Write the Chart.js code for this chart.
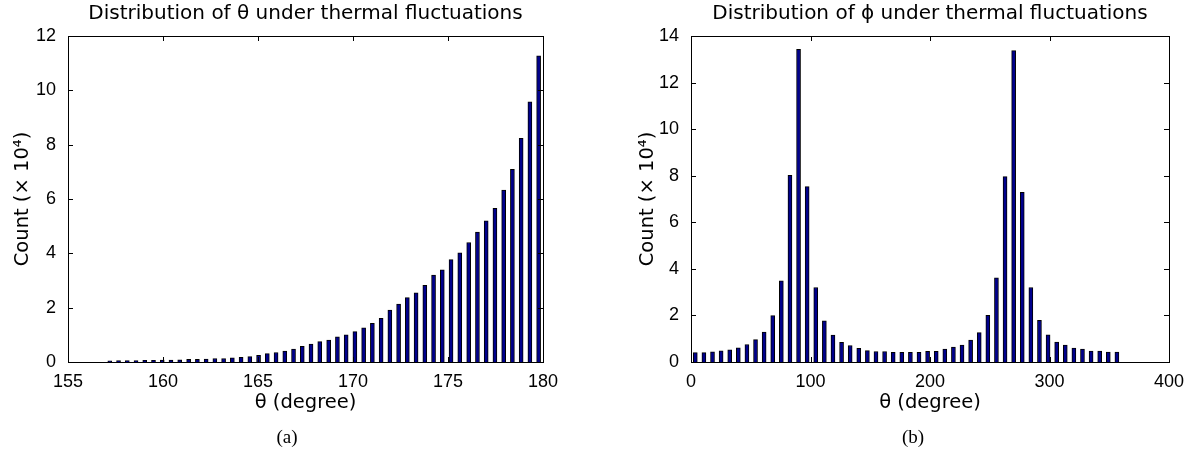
<!DOCTYPE html>
<html lang="en">
<head>
    <meta charset="UTF-8">
    <title>Distribution of theta and phi</title>
    <script src="https://cdn.jsdelivr.net/npm/chart.js"></script>
    <style>
        body { margin: 0; background: #fff; width: 1197px; height: 461px; position: relative; overflow: hidden; }
        canvas { position: absolute; top: 0; }
        .cap { position: absolute; top: 426px; width: 60px; text-align: center; font-family: "Liberation Serif", serif; font-size: 19px; color: #000; }
    </style>
</head>
<body>
    <canvas id="thetaChart" width="600" height="461" style="left:0"></canvas>
    <canvas id="phiChart" width="597" height="461" style="left:600px"></canvas>
    <div class="cap" style="left:257px">(a)</div>
    <div class="cap" style="left:883px">(b)</div>
    <script>
        // bin centres (degree) and counts (x 10^4)
        const thetaBins = [157.20, 157.66, 158.12, 158.58, 159.04, 159.50, 159.96, 160.42, 160.88, 161.35,
            161.81, 162.27, 162.73, 163.19, 163.65, 164.11, 164.57, 165.03, 165.49, 165.95,
            166.41, 166.87, 167.33, 167.79, 168.25, 168.72, 169.18, 169.64, 170.10, 170.56,
            171.02, 171.48, 171.94, 172.40, 172.86, 173.32, 173.78, 174.24, 174.70, 175.16,
            175.62, 176.09, 176.55, 177.01, 177.47, 177.93, 178.39, 178.85, 179.31, 179.77];
        const thetaCounts = [0.04, 0.05, 0.05, 0.05, 0.06, 0.06, 0.07, 0.07, 0.08, 0.10,
            0.10, 0.11, 0.13, 0.13, 0.15, 0.17, 0.20, 0.25, 0.31, 0.35,
            0.40, 0.48, 0.58, 0.66, 0.75, 0.81, 0.93, 1.00, 1.12, 1.26,
            1.42, 1.61, 1.91, 2.13, 2.37, 2.55, 2.82, 3.20, 3.39, 3.77,
            4.02, 4.40, 4.78, 5.20, 5.66, 6.33, 7.09, 8.23, 9.58, 11.27];

        const phiBins = [3.6, 10.8, 18, 25.2, 32.4, 39.6, 46.8, 54, 61.2, 68.4,
            75.6, 82.8, 90, 97.2, 104.4, 111.6, 118.8, 126, 133.2, 140.4,
            147.6, 154.8, 162, 169.2, 176.4, 183.6, 190.8, 198, 205.2, 212.4,
            219.6, 226.8, 234, 241.2, 248.4, 255.6, 262.8, 270, 277.2, 284.4,
            291.6, 298.8, 306, 313.2, 320.4, 327.6, 334.8, 342, 349.2, 356.4];
        const phiCounts = [0.40, 0.40, 0.44, 0.48, 0.52, 0.61, 0.75, 0.96, 1.28, 1.99,
            3.49, 8.02, 13.43, 7.53, 3.20, 1.77, 1.16, 0.84, 0.71, 0.59,
            0.49, 0.45, 0.45, 0.41, 0.41, 0.41, 0.41, 0.46, 0.46, 0.56,
            0.64, 0.73, 0.94, 1.26, 2.00, 3.61, 7.96, 13.37, 7.29, 3.20,
            1.79, 1.17, 0.86, 0.73, 0.60, 0.56, 0.47, 0.47, 0.43, 0.43];

        const thetaXTicks = [155, 160, 165, 170, 175, 180];
        const thetaYTicks = [0, 2, 4, 6, 8, 10, 12];
        const phiXTicks = [0, 100, 200, 300, 400];
        const phiYTicks = [0, 2, 4, 6, 8, 10, 12, 14];

        // box round the plot with inward ticks (matlab style), title centred on the axes
        const frame = {
            id: 'frame',
            afterDatasetsDraw(chart, args, opts) {
                const {ctx, chartArea: a, scales: {x, y}} = chart;
                ctx.save();
                ctx.strokeStyle = '#000';
                ctx.lineWidth = 1;
                ctx.strokeRect(a.left + 0.5, a.top + 0.5, a.right - a.left, a.bottom - a.top);
                ctx.beginPath();
                x.ticks.forEach(t => {
                    const px = Math.round(x.getPixelForValue(t.value)) + 0.5;
                    ctx.moveTo(px, a.bottom); ctx.lineTo(px, a.bottom - 5);
                    ctx.moveTo(px, a.top); ctx.lineTo(px, a.top + 5);
                });
                y.ticks.forEach(t => {
                    const py = Math.round(y.getPixelForValue(t.value)) + 0.5;
                    ctx.moveTo(a.left, py); ctx.lineTo(a.left + 5, py);
                    ctx.moveTo(a.right, py); ctx.lineTo(a.right - 5, py);
                });
                ctx.stroke();

                ctx.fillStyle = '#000';
                ctx.font = '20px "DejaVu Sans"';
                ctx.textAlign = 'center';
                ctx.textBaseline = 'middle';
                ctx.fillText(opts.text, (a.left + a.right) / 2, 14);
                ctx.restore();
            }
        };

        function makeChart(id, title, bins, counts, xTicks, yTicks, pad, yWidth) {
            const ctx = document.getElementById(id).getContext('2d');
            return new Chart(ctx, {
                type: 'bar',
                data: {
                    datasets: [{
                        data: bins.map((b, i) => ({x: b, y: counts[i]})),
                        backgroundColor: '#00008c',
                        borderColor: '#000',
                        borderWidth: 1,
                        barThickness: 4
                    }]
                },
                options: {
                    responsive: false,
                    animation: false,
                    devicePixelRatio: 1,
                    layout: { padding: pad },
                    plugins: {
                        legend: { display: false },
                        tooltip: { enabled: false },
                        frame: { text: title }
                    },
                    scales: {
                        x: {
                            type: 'linear',
                            offset: false,
                            min: xTicks[0],
                            max: xTicks[xTicks.length - 1],
                            grid: { display: false },
                            border: { display: false },
                            ticks: {
                                stepSize: xTicks[1] - xTicks[0],
                                color: '#000',
                                padding: 1,
                                maxRotation: 0,
                                font: { family: 'Liberation Sans', size: 18 }
                            },
                            title: {
                                display: true,
                                text: 'θ (degree)',
                                color: '#000',
                                padding: 0,
                                font: { family: 'DejaVu Sans', size: 19.5 }
                            },
                            afterFit(scale) { scale.height = 53; }
                        },
                        y: {
                            min: yTicks[0],
                            max: yTicks[yTicks.length - 1],
                            grid: { display: false },
                            border: { display: false },
                            ticks: {
                                stepSize: yTicks[1] - yTicks[0],
                                color: '#000',
                                padding: 4,
                                font: { family: 'Liberation Sans', size: 18 }
                            },
                            title: {
                                display: true,
                                text: 'Count (× 10⁴)',
                                color: '#000',
                                padding: 0,
                                font: { family: 'DejaVu Sans', size: 19.5 }
                            },
                            afterFit(scale) { scale.width = yWidth; }
                        }
                    }
                },
                plugins: [frame]
            });
        }

        makeChart('thetaChart', 'Distribution of θ under thermal fluctuations',
            thetaBins, thetaCounts, thetaXTicks, thetaYTicks,
            {left: 11, right: 57, top: 36, bottom: 46}, 57);
        makeChart('phiChart', 'Distribution of ϕ under thermal fluctuations',
            phiBins, phiCounts, phiXTicks, phiYTicks,
            {left: 36, right: 28, top: 36, bottom: 46}, 55);
    </script>
</body>
</html>
